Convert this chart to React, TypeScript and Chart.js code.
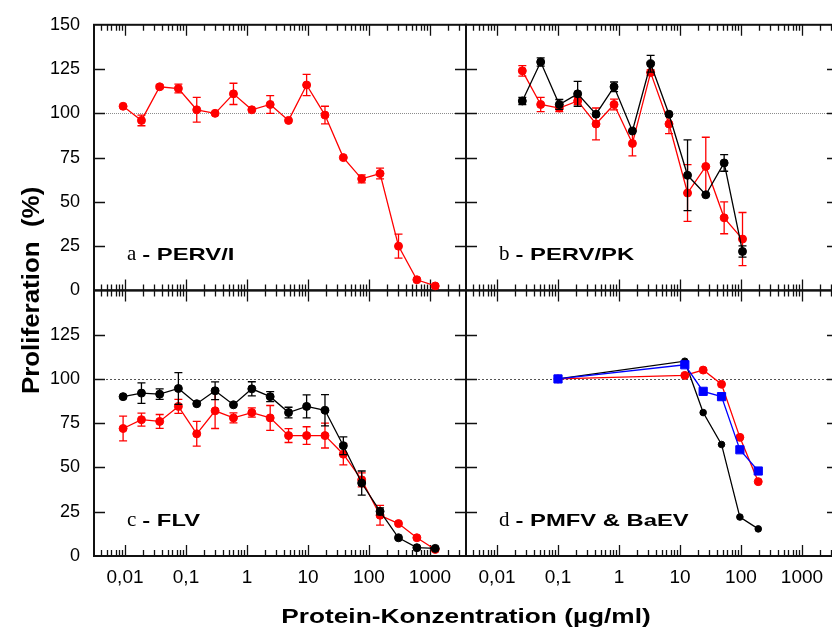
import React, { useEffect, useRef } from 'react';
import { Chart, registerables } from 'chart.js';

Chart.register(...registerables);

// ---------- axis / text data ----------
const X_MAJOR = [0.01, 0.1, 1, 10, 100, 1000];
const X_MAJOR_LABELS = ['0,01', '0,1', '1', '10', '100', '1000'];
const X_MIN = 0.0031;
const X_MAX = 3900;
const Y_TICKS = [0, 25, 50, 75, 100, 125, 150];
const REF_LEVEL = 100;

const PANEL_LETTERS = ['a', 'b', 'c', 'd'];
const PANEL_NAMES = ['PERV/I', 'PERV/PK', 'FLV', 'PMFV & BaEV'];
const Y_TITLE = 'Proliferation  (%)';
const X_TITLE = 'Protein-Konzentration (µg/ml)';

// ---------- series data ----------
const CONC_AC = [0.0093, 0.0186, 0.037, 0.075, 0.15, 0.3, 0.6, 1.2, 2.4, 4.8, 9.5, 19, 38, 76, 152, 305, 610, 1220];
const CONC_B = [0.026, 0.052, 0.105, 0.21, 0.42, 0.83, 1.66, 3.3, 6.6, 13.3, 26.5, 53, 106];
const CONC_D = [0.1, 12, 24, 48, 96, 192];

const A_RED = [104, 96, 115, 114, 102, 100, 111, 102, 105, 96, 116, 99, 75, 63, 66, 25, 6, 2.5];
const A_RED_ERR = [0, 3, 1, 2.5, 7, 0, 6, 0, 5, 0, 6, 5, 0, 2.3, 3, 6.8, 0, 0];

const B_RED = [124, 105, 103, 107, 94, 105, 83, 123, 94, 55, 70, 41, 29];
const B_RED_ERR = [3, 4, 2, 2, 9, 3, 7, 1.5, 5.5, 16, 16.5, 9, 15];
const B_BLACK = [107, 129, 105, 111, 99.5, 115, 90, 128, 99.5, 65, 54, 72, 22];
const B_BLACK_ERR = [2, 2.3, 2.8, 7, 0, 2.7, 0, 4.7, 0, 20, 0, 4.7, 3.2];

const C_RED = [72, 77, 76, 84.5, 69, 82, 78, 81, 78, 68, 68, 68, 57.5, 43, 23, 18.3, 10.3, 3.7];
const C_RED_ERR = [7, 3.7, 3.9, 4, 7, 10, 2.8, 2.6, 7, 3.9, 5, 7, 6, 4, 5.6, 0, 0, 0];
const C_BLACK = [90, 92, 91.4, 94.6, 86, 93.3, 85.4, 94.4, 90, 81, 84.5, 82.3, 62.3, 41.2, 25.2, 10.3, 4.7, 4.3];
const C_BLACK_ERR = [0, 5.8, 3, 9, 0, 5, 0, 4, 2.8, 3, 6.5, 8.8, 5, 6.8, 2, 0, 0, 0];

const D_RED = [100, 102, 105, 97, 67, 42];
const D_BLACK = [100, 110, 81, 63, 22, 15.3];
const D_BLUE = [100, 108, 93, 90, 60, 48];

const RED = '#ff0000';
const BLACK = '#000000';
const BLUE = '#0000ff';
const SANS = '"Liberation Sans", Arial, Helvetica, sans-serif';
const SERIF = '"Liberation Serif", "Times New Roman", serif';

const PANELS = [
  { x: 'xL', y: 'yT' },
  { x: 'xR', y: 'yT' },
  { x: 'xL', y: 'yB' },
  { x: 'xR', y: 'yB' },
];

function isDecade(v: number) {
  return X_MAJOR.some((m) => Math.abs(Math.log10(m) - Math.log10(v)) < 1e-6);
}

function buildXTicks() {
  const out: { value: number }[] = [];
  for (let e = -3; e <= 3; e++) {
    for (let m = 1; m <= 9; m++) {
      const v = Number((m * Math.pow(10, e)).toPrecision(3));
      if (v >= X_MIN && v <= X_MAX) out.push({ value: v });
    }
  }
  return out;
}

function xLabel(value: number) {
  const i = X_MAJOR.findIndex((m) => Math.abs(Math.log10(m) - Math.log10(value)) < 1e-6);
  return i >= 0 ? X_MAJOR_LABELS[i] : '';
}

function pts(xs: number[], ys: number[]) {
  return xs.map((x, i) => ({ x, y: ys[i] }));
}

function series(
  color: string,
  xs: number[],
  ys: number[],
  errs: number[] | null,
  xAxisID: string,
  yAxisID: string,
  order: number,
  pointStyle = 'circle',
  radius = 4
) {
  return {
    data: pts(xs, ys),
    errors: errs,
    xAxisID,
    yAxisID,
    order,
    borderColor: color,
    backgroundColor: color,
    pointBackgroundColor: color,
    pointBorderColor: color,
    pointBorderWidth: 1,
    pointRadius: radius,
    pointStyle,
    borderWidth: 1.3,
    tension: 0,
    fill: false,
  };
}

const errorBarPlugin = {
  id: 'errorBars',
  beforeDatasetDraw(chart: any, args: any) {
    const ds = chart.data.datasets[args.index];
    if (!ds.errors) return;
    const meta = args.meta;
    const ys = chart.scales[meta.yAxisID];
    const ctx = chart.ctx;
    ctx.save();
    ctx.strokeStyle = ds.borderColor;
    ctx.lineWidth = 1.3;
    ctx.beginPath();
    ds.data.forEach((d: any, i: number) => {
      const e = ds.errors[i];
      if (!e) return;
      const el = meta.data[i];
      const x = el.x;
      const top = ys.getPixelForValue(d.y + e);
      const bot = ys.getPixelForValue(d.y - e);
      ctx.moveTo(x, top);
      ctx.lineTo(x, bot);
      ctx.moveTo(x - 4, top);
      ctx.lineTo(x + 4, top);
      ctx.moveTo(x - 4, bot);
      ctx.lineTo(x + 4, bot);
    });
    ctx.stroke();
    ctx.restore();
  },
};

const framePlugin = {
  id: 'panelFrames',
  beforeDatasetsDraw(chart: any) {
    const ctx = chart.ctx;
    ctx.save();
    PANELS.forEach((p, k) => {
      const xs = chart.scales[p.x];
      const ys = chart.scales[p.y];
      const L = xs.left;
      const R = xs.right;
      const T = ys.top;
      const B = ys.bottom;
      // reference line at 100 %
      const yr = Math.round(ys.getPixelForValue(REF_LEVEL)) + 0.5;
      ctx.setLineDash(k < 2 ? [1, 1] : [2, 2]);
      ctx.strokeStyle = k < 2 ? '#8c8c8c' : '#555555';
      ctx.lineWidth = 1;
      ctx.beginPath();
      ctx.moveTo(L, yr);
      ctx.lineTo(R, yr);
      ctx.stroke();
      ctx.setLineDash([]);
      // inward tick marks
      ctx.strokeStyle = '#111111';
      ctx.lineWidth = 1.3;
      ctx.beginPath();
      xs.ticks.forEach((t: any) => {
        const px = Math.round(xs.getPixelForValue(t.value)) + 0.5;
        const len = isDecade(t.value) ? 11 : 6;
        ctx.moveTo(px, T);
        ctx.lineTo(px, T + len);
        ctx.moveTo(px, B);
        ctx.lineTo(px, B - len);
      });
      Y_TICKS.forEach((v) => {
        if (v === Y_TICKS[0] || v === Y_TICKS[Y_TICKS.length - 1]) return;
        const py = Math.round(ys.getPixelForValue(v)) + 0.5;
        ctx.moveTo(L, py);
        ctx.lineTo(L + 11, py);
        ctx.moveTo(R, py);
        ctx.lineTo(R - 11, py);
      });
      ctx.stroke();
      // frame
      ctx.lineWidth = 2;
      ctx.strokeRect(L, T, R - L, B - T);
    });
    ctx.restore();
  },
  afterDraw(chart: any) {
    const ctx = chart.ctx;
    ctx.save();
    ctx.fillStyle = '#000000';
    ctx.textBaseline = 'alphabetic';
    // panel labels
    PANELS.forEach((p, k) => {
      const xs = chart.scales[p.x];
      const ys = chart.scales[p.y];
      const x0 = xs.left + 33;
      const base = ys.bottom - 30;
      ctx.textAlign = 'left';
      ctx.font = '21px ' + SERIF;
      ctx.fillText(PANEL_LETTERS[k], x0, base);
      const w = ctx.measureText(PANEL_LETTERS[k]).width;
      ctx.save();
      ctx.translate(x0 + w + 6, base);
      ctx.scale(1.4, 1);
      ctx.font = 'bold 17px ' + SANS;
      ctx.fillText('- ' + PANEL_NAMES[k], 0, 0);
      ctx.restore();
    });
    // x title
    const area = chart.chartArea;
    ctx.save();
    ctx.translate((area.left + area.right) / 2, 623);
    ctx.scale(1.25, 1);
    ctx.textAlign = 'center';
    ctx.font = 'bold 21px ' + SANS;
    ctx.fillText(X_TITLE, 0, 0);
    ctx.restore();
    // y title
    ctx.save();
    ctx.translate(38.5, (area.top + area.bottom) / 2);
    ctx.rotate(-Math.PI / 2);
    ctx.scale(1.08, 1);
    ctx.textAlign = 'center';
    ctx.font = 'bold 24px ' + SANS;
    ctx.fillText(Y_TITLE, 0, 0);
    ctx.restore();
    ctx.restore();
  },
};

function xScale(weight: number) {
  return {
    type: 'logarithmic',
    position: 'bottom',
    stack: 'cols',
    stackWeight: 1,
    weight,
    min: X_MIN,
    max: X_MAX,
    afterBuildTicks: (s: any) => {
      s.ticks = buildXTicks();
    },
    afterFit: (s: any) => {
      s.height = 40;
    },
    grid: { display: false, drawTicks: false },
    border: { display: false },
    ticks: {
      autoSkip: false,
      maxRotation: 0,
      minRotation: 0,
      padding: 10,
      color: '#000000',
      font: { size: 19, family: SANS },
      callback: (v: any) => xLabel(Number(v)),
    },
  };
}

function yScale(weight: number, hideTop: boolean) {
  return {
    type: 'linear',
    position: 'left',
    stack: 'rows',
    stackWeight: 1,
    weight,
    min: Y_TICKS[0],
    max: Y_TICKS[Y_TICKS.length - 1],
    afterBuildTicks: (s: any) => {
      s.ticks = Y_TICKS.map((v) => ({ value: v }));
    },
    afterFit: (s: any) => {
      s.width = 94;
    },
    grid: { display: false, drawTicks: false },
    border: { display: false },
    ticks: {
      autoSkip: false,
      padding: 14,
      color: '#000000',
      font: { size: 18, family: SANS },
      callback: (v: any) => (hideTop && Number(v) === Y_TICKS[Y_TICKS.length - 1] ? '' : String(v)),
    },
  };
}

export default function App() {
  const ref = useRef<HTMLCanvasElement | null>(null);

  useEffect(() => {
    if (!ref.current) return;
    document.body.style.margin = '0';
    const datasets: any[] = [
      // panel a
      series(RED, CONC_AC, A_RED, A_RED_ERR, 'xL', 'yT', 1),
      // panel b
      series(BLACK, CONC_B, B_BLACK, B_BLACK_ERR, 'xR', 'yT', 0),
      series(RED, CONC_B, B_RED, B_RED_ERR, 'xR', 'yT', 1),
      // panel c
      series(BLACK, CONC_AC, C_BLACK, C_BLACK_ERR, 'xL', 'yB', 0),
      series(RED, CONC_AC, C_RED, C_RED_ERR, 'xL', 'yB', 1),
      // panel d
      series(BLUE, CONC_D, D_BLUE, null, 'xR', 'yB', 0, 'rect', 5.8),
      series(RED, CONC_D, D_RED, null, 'xR', 'yB', 1),
      series(BLACK, CONC_D, D_BLACK, null, 'xR', 'yB', 2, 'circle', 3.3),
    ];

    const chart = new Chart(ref.current, {
      type: 'line',
      data: { datasets },
      options: {
        responsive: false,
        animation: false,
        devicePixelRatio: 1,
        events: [],
        layout: { padding: { left: 0, top: 20, right: 12, bottom: 34 } },
        plugins: {
          legend: { display: false },
          tooltip: { enabled: false },
          title: { display: false },
        },
        scales: {
          xL: xScale(1),
          xR: xScale(2),
          yT: yScale(2, false),
          yB: yScale(1, true),
        } as any,
      } as any,
      plugins: [framePlugin, errorBarPlugin],
    });
    return () => chart.destroy();
  }, []);

  return (
    <div
      style={{
        position: 'fixed',
        left: 0,
        top: 0,
        width: 832,
        height: 630,
        overflow: 'hidden',
        background: '#ffffff',
      }}
    >
      <canvas ref={ref} width={850} height={630} style={{ display: 'block' }} />
    </div>
  );
}
